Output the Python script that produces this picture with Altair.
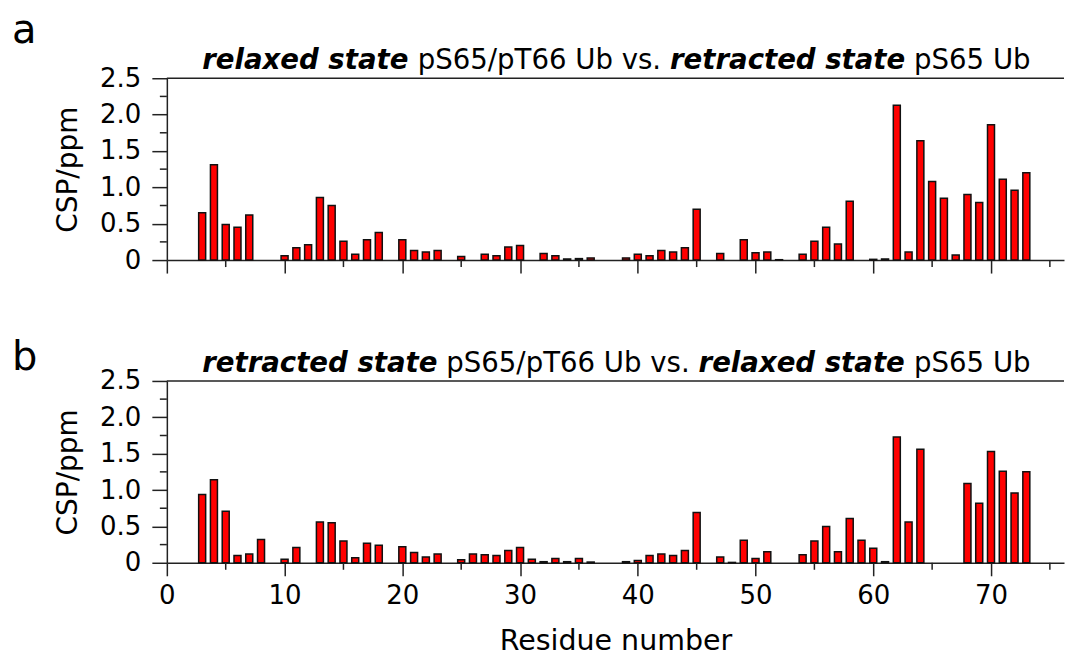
import altair as alt
import pandas as pd

# ---------------- data ----------------
res_a = [3, 4, 5, 6, 7, 10, 11, 12, 13, 14, 15, 16, 17, 18, 20, 21, 22, 23, 25, 27, 28, 29, 30,
         32, 33, 34, 35, 36, 39, 40, 41, 42, 43, 44, 45, 47, 49, 50, 51, 52, 54, 55, 56, 57, 58,
         60, 61, 62, 63, 64, 65, 66, 67, 68, 69, 70, 71, 72, 73]
csp_a = [0.65, 1.31, 0.49, 0.45, 0.62, 0.06, 0.17, 0.21, 0.86, 0.75, 0.26, 0.08, 0.28, 0.38,
         0.28, 0.13, 0.11, 0.13, 0.05, 0.08, 0.06, 0.18, 0.20, 0.09, 0.06, 0.015, 0.02, 0.03,
         0.03, 0.08, 0.06, 0.13, 0.11, 0.17, 0.70, 0.09, 0.28, 0.10, 0.11, 0.005, 0.08, 0.26,
         0.45, 0.22, 0.81, 0.01, 0.015, 2.13, 0.11, 1.64, 1.08, 0.85, 0.07, 0.90, 0.79, 1.86,
         1.11, 0.96, 1.20]

res_b = [3, 4, 5, 6, 7, 8, 10, 11, 13, 14, 15, 16, 17, 18, 20, 21, 22, 23, 25, 26, 27, 28, 29,
         30, 31, 32, 33, 34, 35, 36, 39, 40, 41, 42, 43, 44, 45, 47, 48, 49, 50, 51, 54, 55, 56,
         57, 58, 59, 60, 61, 62, 63, 64, 68, 69, 70, 71, 72, 73]
csp_b = [0.94, 1.14, 0.71, 0.10, 0.12, 0.32, 0.05, 0.21, 0.56, 0.55, 0.30, 0.07, 0.27, 0.24,
         0.22, 0.14, 0.08, 0.12, 0.04, 0.12, 0.11, 0.10, 0.17, 0.21, 0.05, 0.015, 0.06, 0.015,
         0.06, 0.01, 0.015, 0.03, 0.10, 0.12, 0.10, 0.17, 0.69, 0.08, 0.005, 0.31, 0.06, 0.15,
         0.11, 0.30, 0.50, 0.15, 0.61, 0.31, 0.20, 0.015, 1.73, 0.56, 1.56, 1.09, 0.82, 1.53,
         1.26, 0.96, 1.25]

title_a = [("relaxed state", True), ("pS65/pT66 Ub vs.", False),
           ("retracted state", True), ("pS65 Ub", False)]
title_b = [("retracted state", True), ("pS65/pT66 Ub vs.", False),
           ("relaxed state", True), ("pS65 Ub", False)]

y_major = [0, 0.5, 1.0, 1.5, 2.0, 2.5]
y_minor = [0.25, 0.75, 1.25, 1.75, 2.25]
x_major = [0, 10, 20, 30, 40, 50, 60, 70]
x_minor = [5, 15, 25, 35, 45, 55, 65, 75]

# ---------------- layout constants ----------------
W, H = 898, 182
FONT = "DejaVu Sans"
TITLE_SIZE = 27.6
LABEL_SIZE = 26
AX = "#222222"

# approximate DejaVu advance widths (per 1000 em) for placing title pieces
W_NORMAL = {' ': 318, '.': 318, '/': 337, '5': 636, '6': 636, 'S': 635, 'T': 611,
            'U': 732, 'b': 635, 'p': 635, 's': 521, 'v': 592}
W_BOLD = {' ': 348, 'r': 493, 'e': 678, 'l': 343, 'a': 675, 'x': 663, 'd': 716,
          's': 595, 't': 478, 'c': 593}


def text_width(s, bold):
    table = W_BOLD if bold else W_NORMAL
    return sum(table.get(ch, 600) for ch in s) * TITLE_SIZE / 1000.0


one = alt.Data(values=[{}])
xs = alt.Scale(domain=[0, 76.2], nice=False, zero=False, padding=0)
ys = alt.Scale(domain=[0, 2.5], nice=False, padding=0)


def title_layers(pieces, center, base_y):
    space = 318 * TITLE_SIZE / 1000.0
    widths = [text_width(s, b) for s, b in pieces]
    total = sum(widths) + space * (len(pieces) - 1)
    x = center - total / 2.0
    layers = []
    for (s, b), w in zip(pieces, widths):
        layers.append(
            alt.Chart(one).mark_text(
                text=s, font=FONT, fontSize=TITLE_SIZE, align="left", baseline="alphabetic",
                fontStyle="italic" if b else "normal", fontWeight="bold" if b else "normal",
                color="black",
            ).encode(x=alt.value(x), y=alt.value(base_y))
        )
        x += w + space
    return layers


def anchor(px, py):
    # invisible point that fixes the outer bounds of the drawing
    return alt.Chart(one).mark_rule(opacity=0, strokeOpacity=0, stroke="white").encode(
        x=alt.value(px), x2=alt.value(px), y=alt.value(py), y2=alt.value(py))


def panel(res, csp, letter, letter_y, pieces, show_x, anchors):
    df = pd.DataFrame({"res": res, "csp": csp})
    if show_x:
        xaxis = alt.Axis(values=x_major, tickSize=13, tickWidth=1.5, tickColor=AX,
                         domainColor=AX, domainWidth=1.5, grid=False,
                         labelFont=FONT, labelFontSize=LABEL_SIZE, labelColor="black",
                         labelPadding=7, labelFlush=False, labelOverlap=False, format="d",
                         title="Residue number", titleFont=FONT, titleFontSize=28.5,
                         titleFontWeight="normal", titleColor="black",
                         titleBaseline="alphabetic", titleY=87)
    else:
        xaxis = alt.Axis(values=x_major, tickSize=13, tickWidth=1.5, tickColor=AX,
                         domainColor=AX, domainWidth=1.5, grid=False, labels=False,
                         title=None)
    yaxis = alt.Axis(values=y_major, tickSize=15, tickWidth=1.5, tickColor=AX,
                     domainColor=AX, domainWidth=1.5, grid=False,
                     labelFont=FONT, labelFontSize=LABEL_SIZE, labelColor="black",
                     labelPadding=11, labelFlush=False, labelOverlap=False,
                     labelExpr="datum.value == 0 ? '0' : format(datum.value, '.1f')",
                     title="CSP/ppm", titleFont=FONT, titleFontSize=28,
                     titleFontWeight="normal", titleColor="black", titleAngle=270,
                     titleAlign="center", titleBaseline="middle", titleX=-98, titleY=H / 2)

    bars = alt.Chart(df).mark_bar(size=7, fill="#ff0000", stroke="#111111",
                                  strokeWidth=1.5).encode(
        x=alt.X("res:Q", scale=xs, axis=xaxis),
        y=alt.Y("csp:Q", scale=ys, axis=yaxis),
    )
    top = alt.Chart(one).mark_rule(color=AX, strokeWidth=1.5).encode(
        x=alt.value(0), x2=alt.value(W), y=alt.value(0)
    )
    yminor = alt.Chart(pd.DataFrame({"csp": y_minor})).mark_rule(
        color=AX, strokeWidth=1.5).encode(
        y=alt.Y("csp:Q", scale=ys, axis=yaxis), x=alt.value(-7), x2=alt.value(0))
    xminor = alt.Chart(pd.DataFrame({"res": x_minor})).mark_rule(
        color=AX, strokeWidth=1.5).encode(
        x=alt.X("res:Q", scale=xs, axis=xaxis), y=alt.value(H), y2=alt.value(H + 7))
    lab = alt.Chart(one).mark_text(text=letter, font=FONT, fontSize=40, align="left",
                                   baseline="alphabetic", color="black").encode(
        x=alt.value(-155), y=alt.value(letter_y))
    layers = [bars, top, yminor, xminor, lab] + title_layers(pieces, 450, -9)
    layers += [anchor(px, py) for px, py in anchors]
    return alt.layer(*layers).properties(width=W, height=H)


pa = panel(res_a, csp_a, "a", -35, title_a, False, [(-167, -78)])
pb = panel(res_b, csp_b, "b", -11, title_b, True, [(-167, 0), (W, 94)])

chart = alt.vconcat(pa, pb, spacing=121, bounds="flush").properties(
    padding=0,
    background="white",
).configure_view(stroke=None)

chart.save("out.html", embed_options={"renderer": "svg", "actions": False})
